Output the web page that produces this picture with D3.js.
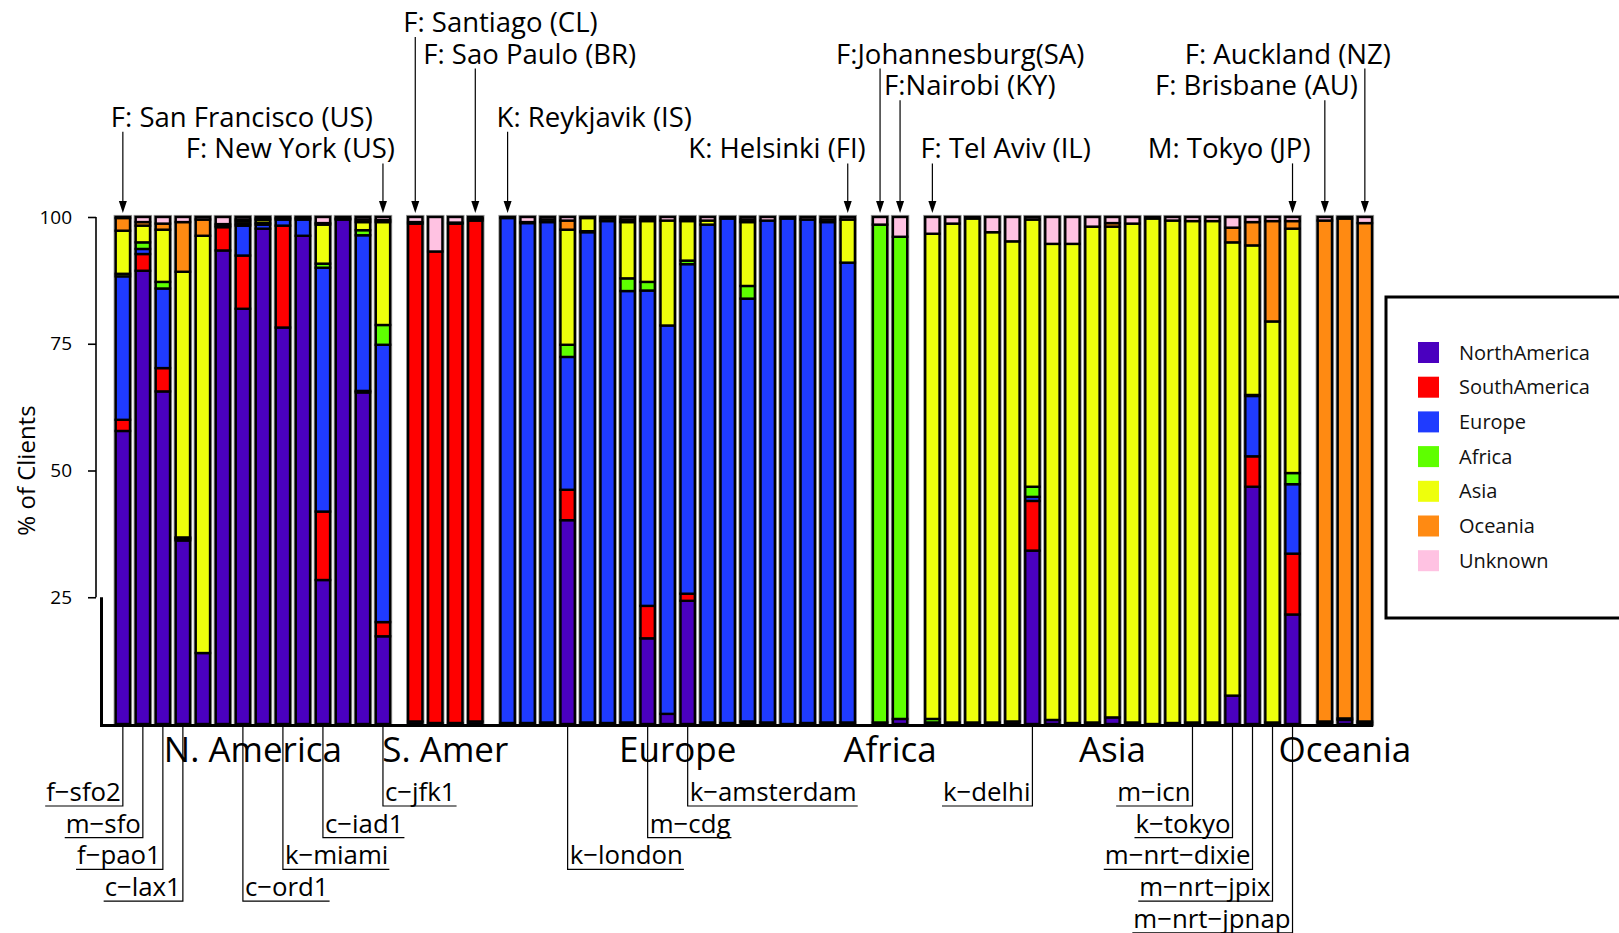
<!doctype html>
<html lang="en">
<head>
<meta charset="utf-8"/>
<title>Clients per site</title>
<style>
    body { margin: 0; background: #fff; }
    svg { display: block; font-family: "Open Sans", sans-serif; }
</style>
</head>
<body>
<svg id="chart" width="1619" height="933"></svg>
<script src="https://d3js.org/d3.v7.min.js"></script>
<script>
// regions, stacked bottom -> top
const regions = ["NorthAmerica", "SouthAmerica", "Europe", "Africa", "Asia", "Oceania", "Unknown"];
const colors = ["#4a00bf", "#ff0000", "#1f3bff", "#5eff00", "#eeff0c", "#ff8a12", "#ffc2e2"];

// site groups along the x axis
const groupNames = ["N. America", "S. Amer", "Europe", "Africa", "Asia", "Oceania"];
const groupSizes = [14, 4, 18, 2, 19, 3];

// % of clients per site (60 sites), one array per region
const northAmerica = [57.8, 89.4, 65.6, 36.2, 14.0, 93.4, 81.9, 97.7, 78.2, 96.3, 28.4, 99.5, 65.4, 17.3,
    0.5, 0.2, 0.2, 0.5,
    0.2, 0.2, 0.3, 40.2, 0.3, 0.2, 0.3, 16.9, 2.0, 24.3, 0.3, 0.2, 0.5, 0.3, 0, 0.2, 0.3, 0.3,
    0.3, 1.0,
    0.3, 0.3, 0.3, 0.3, 0.5, 34.2, 0.8, 0.2, 0.3, 1.3, 0.3, 0, 0.2, 0.3, 0.3, 5.6, 46.8, 0.3, 21.6,
    0.3, 0.8, 0.2];
const southAmerica = [2.2, 3.3, 4.6, 0.2, 0, 4.6, 10.5, 0, 20.1, 0, 13.5, 0, 0.3, 2.8,
    98.2, 93.0, 98.5, 98.8,
    0, 0, 0, 6.0, 0, 0, 0, 6.4, 0, 1.4, 0, 0, 0, 0, 0, 0, 0, 0,
    0, 0,
    0, 0, 0, 0, 0, 9.8, 0, 0, 0, 0, 0, 0, 0, 0, 0, 0, 6.0, 0, 12.0,
    0, 0, 0];
const europe = [28.3, 1.0, 15.7, 0.3, 0, 0.3, 5.9, 0.8, 1.2, 3.2, 48.1, 0.2, 30.7, 54.7,
    0.3, 0, 0.2, 0.3,
    99.6, 98.6, 98.7, 26.2, 96.7, 99.0, 85.1, 62.2, 76.6, 65.0, 98.2, 99.5, 83.4, 99.0, 99.7, 99.3, 98.7, 90.7,
    0, 0,
    0, 0, 0, 0, 0, 0.8, 0, 0, 0, 0, 0, 0, 0, 0, 0, 0, 11.9, 0, 13.7,
    0, 0, 0];
const africa = [0.5, 1.3, 1.3, 0.1, 0, 0, 0.3, 0.3, 0, 0, 0.8, 0, 1.0, 3.9,
    0, 0, 0, 0,
    0, 0, 0, 2.4, 0.2, 0, 2.5, 1.7, 0, 0.7, 0, 0, 2.5, 0, 0, 0, 0, 0,
    98.2, 95.1,
    0.7, 0, 0, 0, 0, 2.0, 0, 0, 0, 0, 0, 0, 0, 0, 0, 0, 0.2, 0, 2.2,
    0, 0, 0];
const asia = [8.5, 3.3, 10.3, 52.4, 82.3, 0.3, 0.5, 0.6, 0.3, 0.3, 7.7, 0, 1.6, 20.3,
    0, 0, 0, 0.2,
    0, 0.2, 0.5, 22.7, 2.6, 0.5, 11.1, 12.0, 20.7, 7.8, 0.8, 0, 12.6, 0, 0, 0, 0.5, 8.5,
    0, 0,
    95.7, 98.4, 99.4, 96.7, 94.7, 52.7, 93.9, 94.5, 97.8, 96.8, 98.4, 99.7, 99.1, 98.9, 98.9, 89.4, 29.5, 79.1, 48.2,
    0.2, 0.3, 0.3];
const oceania = [2.5, 0.7, 1.2, 9.8, 3.2, 0, 0.4, 0.3, 0, 0, 0.3, 0, 0.5, 0.4,
    0, 0, 0, 0,
    0, 0, 0, 1.8, 0, 0, 0.5, 0.4, 0, 0.4, 0, 0, 0.5, 0, 0, 0, 0, 0,
    0, 0,
    0, 0, 0, 0, 0, 0, 0, 0, 0, 0.7, 0, 0, 0, 0, 0, 2.9, 4.6, 19.8, 1.5,
    98.8, 98.6, 98.3];
const unknown = [0.2, 1.0, 1.3, 1.0, 0.5, 1.4, 0.5, 0.3, 0.2, 0.2, 1.2, 0.3, 0.5, 0.6,
    1.0, 6.8, 1.1, 0.2,
    0.2, 1.0, 0.5, 0.7, 0.2, 0.3, 0.5, 0.4, 0.7, 0.4, 0.7, 0.3, 0.5, 0.7, 0.3, 0.5, 0.5, 0.5,
    1.5, 3.9,
    3.3, 1.3, 0.3, 3.0, 4.8, 0.5, 5.3, 5.3, 1.9, 1.2, 1.3, 0.3, 0.7, 0.8, 0.8, 2.1, 1.0, 0.8, 0.8,
    0.7, 0.3, 1.2];

const yTicks = [25, 50, 75, 100];

// labelled sites under the axis (bar index)
const siteNames = ["f−sfo2", "m−sfo", "f−pao1", "c−lax1", "c−ord1", "k−miami", "c−iad1", "c−jfk1",
    "k−london", "m−cdg", "k−amsterdam", "k−delhi", "m−icn", "k−tokyo", "m−nrt−dixie", "m−nrt−jpix", "m−nrt−jpnap"];
const siteBars = [0, 1, 2, 3, 6, 8, 10, 13, 21, 25, 27, 43, 51, 53, 54, 55, 56];

// server locations marked above the bars (bar index)
const serverNames = ["F: San Francisco (US)", "F: New York (US)", "F: Santiago (CL)", "F: Sao Paulo (BR)",
    "K: Reykjavik (IS)", "K: Helsinki (FI)", "F:Johannesburg(SA)", "F:Nairobi (KY)", "F: Tel Aviv (IL)",
    "M: Tokyo (JP)", "F: Brisbane (AU)", "F: Auckland (NZ)"];
const serverBars = [0, 13, 14, 17, 18, 35, 36, 37, 38, 56, 57, 59];

// ---- layout for the labels (row, side, offset from bar centre) ----
const siteLayout = [[0, "L"], [1, "L"], [2, "L"], [3, "L"], [3, "R"], [2, "R"], [1, "R"], [0, "R"],
    [2, "R"], [1, "R"], [0, "R"], [0, "L"], [0, "L"], [1, "L"], [2, "L"], [3, "L"], [4, "L"]];
const serverLayout = [[3, "start", -12], [4, "end", 12], [0, "start", -12], [1, "start", -52],
    [3, "start", -11], [4, "end", 18], [1, "start", -44], [2, "start", -16], [4, "start", -12],
    [4, "end", 18], [2, "end", 33], [1, "end", 26]];

const svg = d3.select("#chart");
const nBars = northAmerica.length;
const groupGap = 0.615;      // extra space between groups, in bar slots
const barW = 16.7;

// slot position of every bar (groups separated by a gap)
const groupOf = [];
groupSizes.forEach((n, g) => { for (let k = 0; k < n; k++) groupOf.push(g); });
const slot = d3.range(nBars).map(i => i + groupOf[i] * groupGap);

const x = d3.scaleLinear().domain([0, slot[nBars - 1]]).range([114.5, 1356.5]);
const y = d3.scaleLinear().domain([0, 100]).range([724, 217]);

const rows = d3.range(nBars).map(i => ({
    NorthAmerica: northAmerica[i], SouthAmerica: southAmerica[i], Europe: europe[i],
    Africa: africa[i], Asia: asia[i], Oceania: oceania[i], Unknown: unknown[i]
}));
const series = d3.stack().keys(regions)(rows);
const color = d3.scaleOrdinal().domain(regions).range(colors);

// soft grey halo round every bar
const topLayer = series[series.length - 1];
svg.append("g").selectAll("rect")
    .data(d3.range(nBars))
    .join("rect")
    .attr("x", i => x(slot[i]) + 1.2)
    .attr("width", barW - 2.4)
    .attr("y", i => y(topLayer[i][1]))
    .attr("height", i => y(0) - y(topLayer[i][1]))
    .attr("fill", "none")
    .attr("stroke", "#9a9a9a")
    .attr("stroke-width", 4.2);

// bars
const layer = svg.append("g").selectAll("g")
    .data(series)
    .join("g")
    .attr("fill", d => color(d.key));

layer.selectAll("rect")
    .data(d => d.map((v, i) => ({v, i})).filter(e => e.v[1] - e.v[0] > 0))
    .join("rect")
    .attr("x", e => x(slot[e.i]) + 1.2)
    .attr("width", barW - 2.4)
    .attr("y", e => y(e.v[1]))
    .attr("height", e => y(e.v[0]) - y(e.v[1]))
    .attr("stroke", "#000")
    .attr("stroke-width", 2.4);

// frame (bottom + left stub)
svg.append("path")
    .attr("d", `M101.5,${y(25)}V725.5H${x(slot[nBars - 1]) + barW}`)
    .attr("fill", "none")
    .attr("stroke", "#000")
    .attr("stroke-width", 3);

// y axis
const yAxis = svg.append("g")
    .attr("transform", "translate(96,0)")
    .call(d3.axisLeft(y).tickValues(yTicks).tickSize(8).tickPadding(16));
yAxis.select(".domain").remove();
yAxis.selectAll(".tick line").attr("stroke-width", 1.6);
yAxis.selectAll(".tick text").attr("font-size", 19).attr("font-family", "Open Sans, sans-serif").attr("fill", "#000");
yAxis.append("line")
    .attr("y1", y(25)).attr("y2", y(100))
    .attr("stroke", "#000").attr("stroke-width", 1.6);

svg.append("text")
    .attr("transform", `translate(35,${y(50)}) rotate(-90)`)
    .attr("text-anchor", "middle")
    .attr("font-size", 24)
    .text("% of Clients");

// group names under the bars
let start = 0;
groupSizes.forEach((n, g) => {
    const x0 = x(slot[start]), x1 = x(slot[start + n - 1]) + barW;
    svg.append("text")
        .attr("x", (x0 + x1) / 2)
        .attr("y", 762)
        .attr("text-anchor", "middle")
        .attr("font-size", 35)
        .text(groupNames[g]);
    start += n;
});

// site labels below, with leader lines
const siteG = svg.append("g").attr("font-size", 25.8);
siteNames.forEach((name, k) => {
    const cx = x(slot[siteBars[k]]) + barW / 2;
    const [row, side] = siteLayout[k];
    const uy = 806 + row * 31.7;
    const t = siteG.append("text")
        .attr("x", side === "L" ? cx - 2 : cx + 2)
        .attr("y", uy - 5)
        .attr("text-anchor", side === "L" ? "end" : "start")
        .text(name);
    const w = t.node().getComputedTextLength();
    siteG.append("path")
        .attr("d", side === "L"
            ? `M${cx},727V${uy}H${cx - w - 3}`
            : `M${cx},727V${uy}H${cx + w + 3}`)
        .attr("fill", "none")
        .attr("stroke", "#000")
        .attr("stroke-width", 1.2);
});

// server labels above, with arrows
const servG = svg.append("g").attr("font-size", 27.5);
serverNames.forEach((name, k) => {
    const cx = x(slot[serverBars[k]]) + barW / 2;
    const [row, anchor, dx] = serverLayout[k];
    const by = 32 + row * 31.6;
    servG.append("text")
        .attr("x", cx + dx)
        .attr("y", by)
        .attr("text-anchor", anchor)
        .text(name);
    servG.append("line")
        .attr("x1", cx).attr("x2", cx)
        .attr("y1", by + 5).attr("y2", 203)
        .attr("stroke", "#000").attr("stroke-width", 1.2);
    servG.append("path")
        .attr("d", `M${cx - 4},201L${cx + 4},201L${cx},213Z`)
        .attr("fill", "#000");
});

// legend
const legend = svg.append("g");
legend.append("rect")
    .attr("x", 1386).attr("y", 297)
    .attr("width", 260).attr("height", 321)
    .attr("fill", "#fff").attr("stroke", "#000").attr("stroke-width", 3);
regions.forEach((r, k) => {
    const cy = 352.5 + k * 34.7;
    legend.append("rect")
        .attr("x", 1418).attr("y", cy - 10.5)
        .attr("width", 21).attr("height", 21)
        .attr("fill", color(r));
    legend.append("text")
        .attr("x", 1459).attr("y", cy)
        .attr("dy", "0.35em")
        .attr("font-size", 20)
        .attr("fill", "#111")
        .text(r);
});
</script>
</body>
</html>
